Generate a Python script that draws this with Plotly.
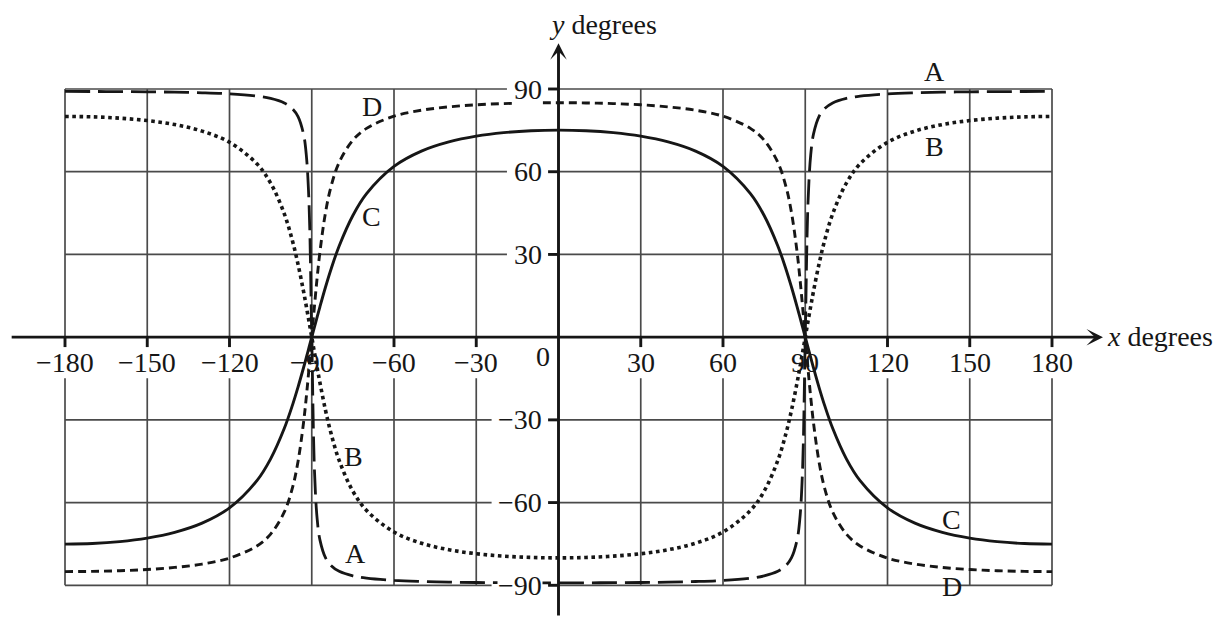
import plotly.graph_objects as go

# ---------------- data ----------------
X = [-180, -170, -160, -150, -140, -130, -120, -110, -105, -100, -97, -95, -93, -92, -91, -90,
     -89, -88, -87, -85, -83, -80, -75, -70, -60, -50, -40, -30, -20, -10, 0,
     10, 20, 30, 40, 50, 60, 70, 75, 80, 83, 85, 87, 88, 89, 90,
     91, 92, 93, 95, 97, 100, 105, 110, 120, 130, 140, 150, 160, 170, 180]

A_Y = [89.12, 89.10, 89.06, 88.98, 88.85, 88.63, 88.24, 87.42, 86.60, 84.94, 82.80, 79.99, 73.62, 66.21, 48.60, 0,
       -48.60, -66.21, -73.62, -79.99, -82.80, -84.94, -86.60, -87.42, -88.24, -88.63, -88.85, -88.98, -89.06, -89.10, -89.12,
       -89.10, -89.06, -88.98, -88.85, -88.63, -88.24, -87.42, -86.60, -84.94, -82.80, -79.99, -73.62, -66.21, -48.60, 0,
       48.60, 66.21, 73.62, 79.99, 82.80, 84.94, 86.60, 87.42, 88.24, 88.63, 88.85, 88.98, 89.06, 89.10, 89.12]

B_Y = [80.05, 79.90, 79.42, 78.55, 77.10, 74.73, 70.67, 62.85, 55.87, 44.71, 34.79, 26.42, 16.61, 11.25, 5.68, 0,
       -5.68, -11.25, -16.61, -26.42, -34.79, -44.71, -55.87, -62.85, -70.67, -74.73, -77.10, -78.55, -79.42, -79.90, -80.05,
       -79.90, -79.42, -78.55, -77.10, -74.73, -70.67, -62.85, -55.87, -44.71, -34.79, -26.42, -16.61, -11.25, -5.68, 0,
       5.68, 11.25, 16.61, 26.42, 34.79, 44.71, 55.87, 62.85, 70.67, 74.73, 77.10, 78.55, 79.42, 79.90, 80.05]

C_Y = [-75.07, -74.85, -74.16, -72.89, -70.81, -67.47, -61.93, -52.05, -44.14, -33.07, -24.56, -18.10, -11.10, -7.46, -3.74, 0,
       3.74, 7.46, 11.10, 18.10, 24.56, 33.07, 44.14, 52.05, 61.93, 67.47, 70.81, 72.89, 74.16, 74.85, 75.07,
       74.85, 74.16, 72.89, 70.81, 67.47, 61.93, 52.05, 44.14, 33.07, 24.56, 18.10, 11.10, 7.46, 3.74, 0,
       -3.74, -7.46, -11.10, -18.10, -24.56, -33.07, -44.14, -52.05, -61.93, -67.47, -70.81, -72.89, -74.16, -74.85, -75.07]

D_Y = [-85.03, -84.95, -84.71, -84.27, -83.52, -82.30, -80.13, -75.73, -71.43, -63.40, -54.50, -45.07, -31.04, -21.87, -11.35, 0,
       11.35, 21.87, 31.04, 45.07, 54.50, 63.40, 71.43, 75.73, 80.13, 82.30, 83.52, 84.27, 84.71, 84.95, 85.03,
       84.95, 84.71, 84.27, 83.52, 82.30, 80.13, 75.73, 71.43, 63.40, 54.50, 45.07, 31.04, 21.87, 11.35, 0,
       -11.35, -21.87, -31.04, -45.07, -54.50, -63.40, -71.43, -75.73, -80.13, -82.30, -83.52, -84.27, -84.71, -84.95, -85.03]

X_TICKS = [-180, -150, -120, -90, -60, -30, 30, 60, 90, 120, 150, 180]
X_TICK_LABELS = ["−180", "−150", "−120", "−90", "−60", "−30", "30", "60", "90", "120", "150", "180"]
Y_TICKS = [90, 60, 30, -30, -60, -90]
Y_TICK_LABELS = ["90", "60", "30", "−30", "−60", "−90"]

CURVE_LABELS = ["A", "B", "D", "C", "A", "B", "C", "D"]
CURVE_LABEL_X = [137.3, 137.3, -68.1, -68.1, -74.2, -74.6, 143.5, 143.4]
CURVE_LABEL_Y = [96.2, 69.0, 83.5, 43.6, -78.4, -43.4, -66.0, -90.6]

# ---------------- styling ----------------
FONT = "Liberation Serif"
INK = "#161616"
GRID = "#4a4a4a"

fig = go.Figure()

fig.add_trace(go.Scatter(x=X, y=A_Y, mode="lines", line=dict(color=INK, width=2.8, dash="25px,8px", shape="spline"),
                         hoverinfo="skip", showlegend=False))
fig.add_trace(go.Scatter(x=X, y=B_Y, mode="lines", line=dict(color=INK, width=3.6, dash="3.6px,3.6px", shape="spline"),
                         hoverinfo="skip", showlegend=False))
fig.add_trace(go.Scatter(x=X, y=C_Y, mode="lines", line=dict(color=INK, width=2.9, shape="spline"),
                         hoverinfo="skip", showlegend=False))
fig.add_trace(go.Scatter(x=X, y=D_Y, mode="lines", line=dict(color=INK, width=2.9, dash="8px,5px", shape="spline"),
                         hoverinfo="skip", showlegend=False))

shapes = []
# vertical gridlines (broken where the x labels sit)
for xv in range(-180, 181, 30):
    if xv == 0:
        continue
    shapes.append(dict(type="line", x0=xv, x1=xv, y0=-90, y1=-14.9, line=dict(color=GRID, width=1.7), layer="below"))
    shapes.append(dict(type="line", x0=xv, x1=xv, y0=0, y1=90, line=dict(color=GRID, width=1.7), layer="below"))
    # tick stub below x axis
    shapes.append(dict(type="line", x0=xv, x1=xv, y0=-3.6, y1=0, line=dict(color=INK, width=2.9), layer="below"))
# horizontal gridlines (broken where the y labels sit)
for yv in range(-90, 91, 30):
    if yv == 0:
        continue
    gap = -18.8 if yv > 0 else -24.4
    shapes.append(dict(type="line", x0=-180, x1=gap, y0=yv, y1=yv, line=dict(color=GRID, width=1.7), layer="below"))
    shapes.append(dict(type="line", x0=0, x1=180, y0=yv, y1=yv, line=dict(color=GRID, width=1.7), layer="below"))
    shapes.append(dict(type="line", x0=-3.8, x1=0, y0=yv, y1=yv, line=dict(color=INK, width=2.9), layer="below"))

annotations = []
# axes with arrows
annotations.append(dict(x=198.6, y=0, ax=-200, ay=0, xref="x", yref="y", axref="x", ayref="y", text="",
                        showarrow=True, arrowhead=3, arrowsize=0.95, arrowwidth=2.9, arrowcolor=INK))
annotations.append(dict(x=0, y=106.6, ax=0, ay=-101.5, xref="x", yref="y", axref="x", ayref="y", text="",
                        showarrow=True, arrowhead=3, arrowsize=0.95, arrowwidth=2.9, arrowcolor=INK))

for xv, lab in zip(X_TICKS, X_TICK_LABELS):
    annotations.append(dict(x=xv, y=-9.3, xref="x", yref="y", text=lab, showarrow=False,
                            font=dict(family=FONT, size=28, color=INK), xanchor="center", yanchor="middle"))
annotations.append(dict(x=-5.7, y=-7.0, xref="x", yref="y", text="0", showarrow=False,
                        font=dict(family=FONT, size=28, color=INK), xanchor="center", yanchor="middle"))
for yv, lab in zip(Y_TICKS, Y_TICK_LABELS):
    annotations.append(dict(x=-5.6, y=yv, xref="x", yref="y", text=lab, showarrow=False,
                            font=dict(family=FONT, size=28, color=INK), xanchor="right", yanchor="middle",
                            bgcolor="white", borderpad=0))

annotations.append(dict(x=-4.3, y=113.3, xref="x", yref="y", text="<i>y</i> degrees", showarrow=False,
                        font=dict(family=FONT, size=28, color=INK), xanchor="left", yanchor="middle"))
annotations.append(dict(x=199.5, y=0.3, xref="x", yref="y", text="<i>x</i> degrees", showarrow=False,
                        font=dict(family=FONT, size=28, color=INK), xanchor="left", yanchor="middle"))

for lab, lx, ly in zip(CURVE_LABELS, CURVE_LABEL_X, CURVE_LABEL_Y):
    annotations.append(dict(x=lx, y=ly, xref="x", yref="y", text=lab, showarrow=False,
                            font=dict(family=FONT, size=28, color=INK), xanchor="center", yanchor="middle"))

# page body has an 8px margin; size and ranges compensate for it
fig.update_layout(
    width=1213, height=610, autosize=False,
    margin=dict(l=0, r=0, t=0, b=0),
    paper_bgcolor="white", plot_bgcolor="white",
    xaxis=dict(range=[-200.79, 241.64], visible=False, fixedrange=True),
    yaxis=dict(range=[-101.86, 119.38], visible=False, fixedrange=True),
    shapes=shapes, annotations=annotations, showlegend=False,
)

fig.write_html("out.html")
